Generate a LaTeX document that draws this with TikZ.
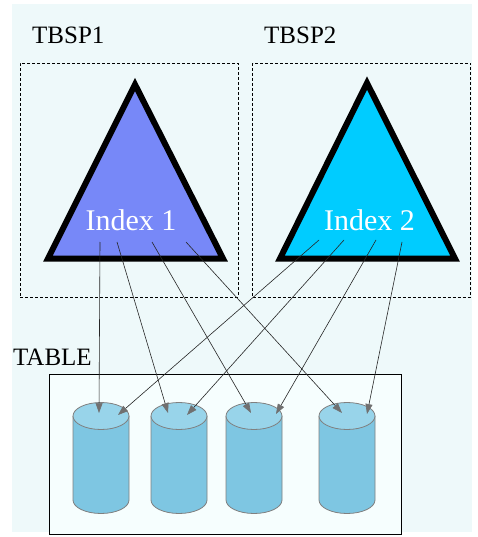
\documentclass[tikz,border=0pt]{standalone}
\usepackage{fontspec}
\setmainfont{Liberation Serif}
\usetikzlibrary{arrows.meta,positioning,calc}

\definecolor{bgcyan}{HTML}{EEF9FA}
\definecolor{tablefill}{HTML}{F6FEFE}
\definecolor{idxblue}{HTML}{7788F8}
\definecolor{idxcyan}{HTML}{00CCFF}
\definecolor{cylbody}{HTML}{7EC6E2}
\definecolor{cyltop}{HTML}{98D4EA}
\definecolor{cylline}{HTML}{808080}
\definecolor{tipgray}{HTML}{707070}

\begin{document}
\begin{tikzpicture}[
    x=1pt, y=-1pt,
    space/.style={draw, dash pattern=on 3pt off 2pt, line width=0.6pt, minimum width=218, minimum height=234, inner sep=0},
    tri/.style={draw=black, line width=6pt, line join=miter},
    idx/.style={text=white, font=\fontsize{30}{36}\selectfont, anchor=base, inner sep=0},
    lbl/.style={font=\fontsize{25}{30}\selectfont, anchor=base west, inner sep=0},
    cylside/.style={fill=cylbody, draw=cylline, line width=0.8pt},
    cylend/.style={fill=cyltop, draw=cylline, line width=0.8pt},
    arrow/.style={-{Triangle[length=10pt,width=7pt,color=tipgray]}, draw=black!85, line width=0.6pt}
]
\useasboundingbox (0,0) rectangle (477,537);

% Background
\fill[bgcyan] (12,4) rectangle (472,532);

% Tablespaces
\node[space] (sp1) at (129,180) {};
\node[space] (sp2) at (361.5,180) {};
\node[lbl] (tbsp1) at (32,44) {TBSP1};
\node[lbl] (tbsp2) at (264,44) {TBSP2};

% Indexes
\draw[tri, fill=idxblue] (135,84.5) -- (223,258.5) -- (48,258.5) -- cycle;
\draw[tri, fill=idxcyan] (367,83) -- (455,258.5) -- (280,258.5) -- cycle;
\node[idx] (idx1) at (131,230) {Index 1};
\node[idx] (idx2) at (369.5,230) {Index 2};

% Table
\node[draw, fill=tablefill, line width=0.6pt, minimum width=352, minimum height=160, inner sep=0] (table) at (225,454) {};
\node[lbl] (tbl) at (13,365) {TABLE};

% Containers
\foreach \n/\x in {1/101,2/179,3/254,4/347}{
  \path[cylside] (\x-28,416) -- (\x-28,500) arc[start angle=180, end angle=0, x radius=28, y radius=13.5] -- (\x+28,416);
  \draw[cylend] (\x,416) ellipse[x radius=28, y radius=13.5];
  \coordinate (cyl\n) at (\x,416);
}

% Arrows
\draw[arrow] ($(idx1.base)+(-31,12)$) -- ($(cyl1)+(-2,-3)$);
\draw[arrow] ($(idx1.base)+(-14,12)$) -- ($(cyl2)+(-11,-3)$);
\draw[arrow] ($(idx1.base)+(21,12)$) -- ($(cyl3)+(-3,-3)$);
\draw[arrow] ($(idx1.base)+(55,12)$) -- ($(cyl4)+(-5,-3)$);
\draw[arrow] ($(idx2.base)+(-50.5,10)$) -- ($(cyl1)+(17,-1)$);
\draw[arrow] ($(idx2.base)+(-25.5,10)$) -- ($(cyl2)+(8,-1)$);
\draw[arrow] ($(idx2.base)+(6.5,10)$) -- ($(cyl3)+(22,-2)$);
\draw[arrow] ($(idx2.base)+(32.5,12)$) -- ($(cyl4)+(20,-2)$);

\end{tikzpicture}
\end{document}
